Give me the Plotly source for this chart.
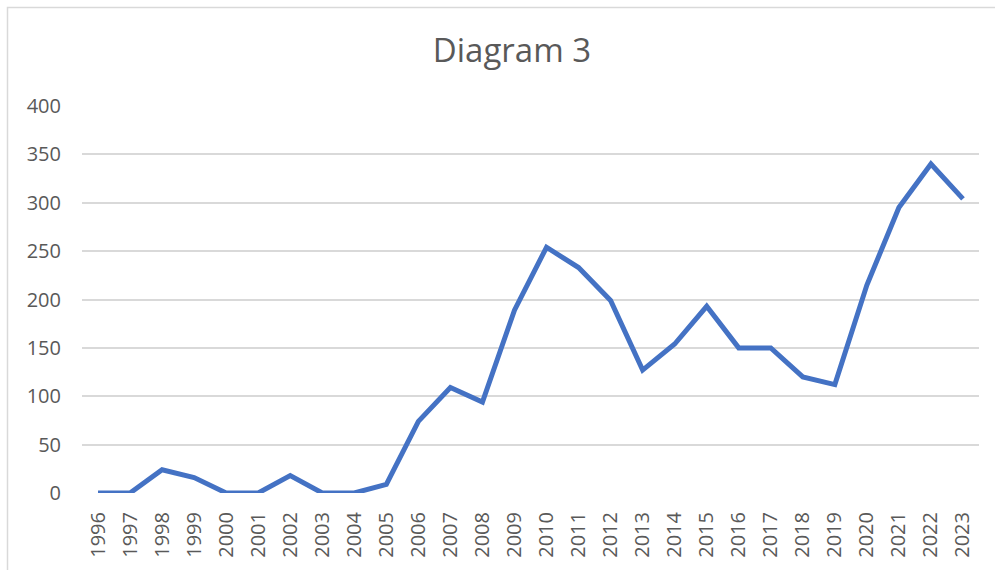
import plotly.graph_objects as go

years = [str(y) for y in range(1996, 2024)]
values = [0, 0, 24, 16, 0, 0, 18, 0, 0, 9, 74, 109, 94, 189,
          254, 233, 199, 127, 154, 193, 150, 150, 120, 112, 215, 295, 340, 304]
y_ticks = [0, 50, 100, 150, 200, 250, 300, 350, 400]

W, H = 995, 570
L, R, T, B = 82, 16, 106, 77
pw, ph = W - L - R, H - T - B

fig = go.Figure()
fig.add_trace(go.Scatter(
    x=years, y=values, mode="lines",
    line=dict(color="#4472C4", width=5),
    hoverinfo="x+y",
))

font_color = "#595959"
fig.update_layout(
    width=W, height=H,
    margin=dict(l=L, r=R, t=T, b=B, autoexpand=False),
    paper_bgcolor="white", plot_bgcolor="white",
    showlegend=False,
    title=dict(text="Diagram 3", x=0.5 + (512 - W / 2) / W, xanchor="center",
               y=1 - 50 / H, yanchor="middle", yref="container",
               font=dict(family="Open Sans", size=33, color=font_color)),
    font=dict(family="Open Sans", color=font_color),
    xaxis=dict(type="category", tickangle=-90, showgrid=False, zeroline=False,
               showline=False, ticks="", range=[-0.5, len(years) - 0.5],
               ticklabelstandoff=14,
               tickfont=dict(family="Open Sans", size=20, color=font_color)),
    yaxis=dict(range=[0, 400], tickvals=y_ticks, showgrid=True,
               gridcolor="#d9d9d9", gridwidth=1.5, zeroline=False,
               showline=False, ticks="", ticklabelstandoff=20,
               tickfont=dict(family="Open Sans", size=20, color=font_color)),
    shapes=[dict(type="rect", xref="paper", yref="paper",
                 x0=(7.5 - L) / pw, x1=(W + 10 - L) / pw,
                 y0=(H - B - (H + 10)) / ph, y1=(H - B - 7.5) / ph,
                 line=dict(color="#d9d9d9", width=1.5), layer="below")],
)

fig.write_html("out.html", config={"displayModeBar": False},
               post_script="document.body.style.margin='0';document.body.style.overflow='hidden';")
